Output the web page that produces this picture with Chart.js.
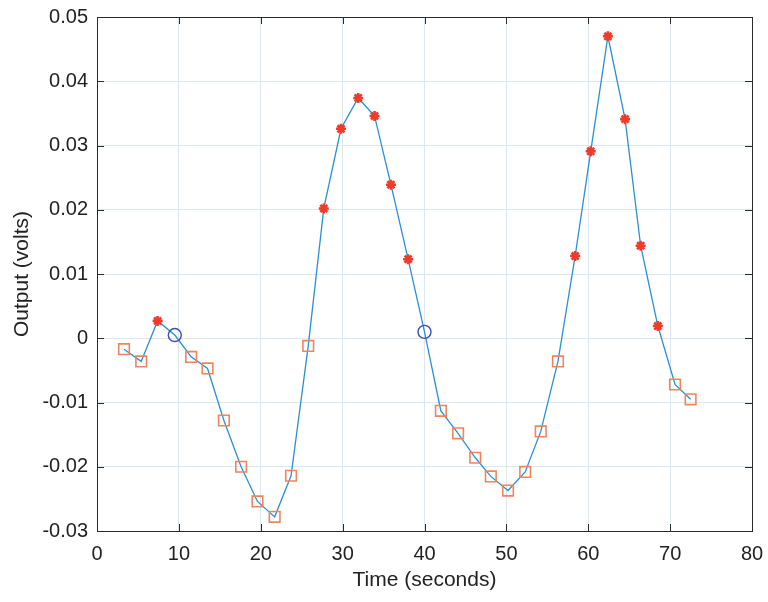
<!DOCTYPE html>
<html>
<head>
<meta charset="utf-8">
<script src="https://cdn.jsdelivr.net/npm/chart.js@4"></script>
<style>
  html, body { margin: 0; padding: 0; background: #fff; }
  #wrap { width: 768px; height: 602px; }
</style>
</head>
<body>
<div id="wrap"><canvas id="chart" width="768" height="602"></canvas></div>
<script>
// Data
const timeSec = [3.3, 5.4, 7.4, 9.5, 11.5, 13.5, 15.5, 17.6, 19.6, 21.7, 23.7, 25.8,
  27.7, 29.8, 31.9, 33.9, 35.9, 38.0, 40.0, 42.0, 44.1, 46.2, 48.1, 50.2, 52.3,
  54.2, 56.3, 58.4, 60.3, 62.4, 64.5, 66.4, 68.5, 70.6, 72.5];
const outputVolts = [-0.0017, -0.0036, 0.0027, 0.0005, -0.0029, -0.0047, -0.0128, -0.0200,
  -0.0254, -0.0278, -0.0214, -0.0012, 0.0202, 0.0326, 0.0374, 0.0346, 0.0239, 0.0123,
  0.0010, -0.0113, -0.0148, -0.0186, -0.0215, -0.0237, -0.0208, -0.0145, -0.0036,
  0.0128, 0.0291, 0.0470, 0.0341, 0.0144, 0.0019, -0.0072, -0.0095];
// marker kind per point: s = square, * = star, o = circle
const markerKind = ["s", "s", "*", "o", "s", "s", "s", "s", "s", "s", "s", "s",
  "*", "*", "*", "*", "*", "*", "o", "s", "s", "s", "s", "s", "s", "s", "s",
  "*", "*", "*", "*", "*", "*", "s", "s"];
const xTicks = [0, 10, 20, 30, 40, 50, 60, 70, 80];
const yTicks = [-0.03, -0.02, -0.01, 0, 0.01, 0.02, 0.03, 0.04, 0.05];

const points = timeSec.map((t, i) => ({ x: t, y: outputVolts[i] }));

const styleMap = { s: "rect", "*": "star", o: "circle" };
const colorMap = { s: "#f2845c", "*": "#ee3b2a", o: "#3a4fb0" };
const radiusMap = { s: 7.5, "*": 5, o: 6.5 };
const widthMap = { s: 1.6, "*": 2.6, o: 1.4 };

const axisColor = "#2b2b2b";
const font = "'Liberation Sans', Arial, sans-serif";

// box around the plot with inward ticks like the original
const framePlugin = {
  id: "frame",
  afterDraw(chart) {
    const { ctx, chartArea: a, scales } = chart;
    ctx.save();
    ctx.strokeStyle = axisColor;
    ctx.lineWidth = 1;
    ctx.strokeRect(a.left + 0.5, a.top + 0.5, a.right - a.left, a.bottom - a.top);
    const len = 7;
    ctx.beginPath();
    xTicks.forEach((v) => {
      const px = Math.round(scales.x.getPixelForValue(v)) + 0.5;
      ctx.moveTo(px, a.bottom); ctx.lineTo(px, a.bottom - len);
      ctx.moveTo(px, a.top); ctx.lineTo(px, a.top + len);
    });
    yTicks.forEach((v) => {
      const py = Math.round(scales.y.getPixelForValue(v)) + 0.5;
      ctx.moveTo(a.left, py); ctx.lineTo(a.left + len, py);
      ctx.moveTo(a.right, py); ctx.lineTo(a.right - len, py);
    });
    ctx.stroke();
    ctx.restore();
  }
};

new Chart(document.getElementById("chart"), {
  type: "scatter",
  data: {
    datasets: [{
      data: points,
      showLine: true,
      borderColor: "#2b8fd6",
      borderWidth: 1.3,
      tension: 0,
      pointStyle: markerKind.map((k) => styleMap[k]),
      pointBorderColor: markerKind.map((k) => colorMap[k]),
      pointBackgroundColor: markerKind.map((k) => (k === "*" ? colorMap[k] : "rgba(0,0,0,0)")),
      pointRadius: markerKind.map((k) => radiusMap[k]),
      pointBorderWidth: markerKind.map((k) => widthMap[k]),
      pointHoverRadius: markerKind.map((k) => radiusMap[k])
    }]
  },
  options: {
    responsive: false,
    animation: false,
    layout: { padding: { left: 10, right: 16, top: 17, bottom: 9 } },
    plugins: { legend: { display: false }, tooltip: { enabled: false } },
    scales: {
      x: {
        type: "linear",
        min: 0,
        max: 80,
        afterBuildTicks: (s) => { s.ticks = xTicks.map((v) => ({ value: v })); },
        afterFit: (s) => { s.height = 62; s.paddingLeft = 0; s.paddingRight = 0; },
        grid: { color: "#dde7f0", drawTicks: false },
        border: { display: false },
        ticks: { color: "#222", font: { family: font, size: 20 }, padding: 11 },
        title: { display: true, text: "Time (seconds)", color: "#222",
          font: { family: font, size: 21 }, padding: { top: 0, bottom: 0 } }
      },
      y: {
        type: "linear",
        min: -0.03,
        max: 0.05,
        afterBuildTicks: (s) => { s.ticks = yTicks.map((v) => ({ value: v })); },
        afterFit: (s) => { s.width = 87; s.paddingTop = 0; s.paddingBottom = 0; },
        grid: { color: "#dde7f0", drawTicks: false },
        border: { display: false },
        ticks: {
          color: "#222",
          font: { family: font, size: 20 },
          padding: 9,
          callback: (v) => String(Number(v.toFixed(2)))
        },
        title: { display: true, text: "Output (volts)", color: "#222",
          font: { family: font, size: 21 }, padding: { top: 0, bottom: 0 } }
      }
    }
  },
  plugins: [framePlugin]
});
</script>
</body>
</html>
